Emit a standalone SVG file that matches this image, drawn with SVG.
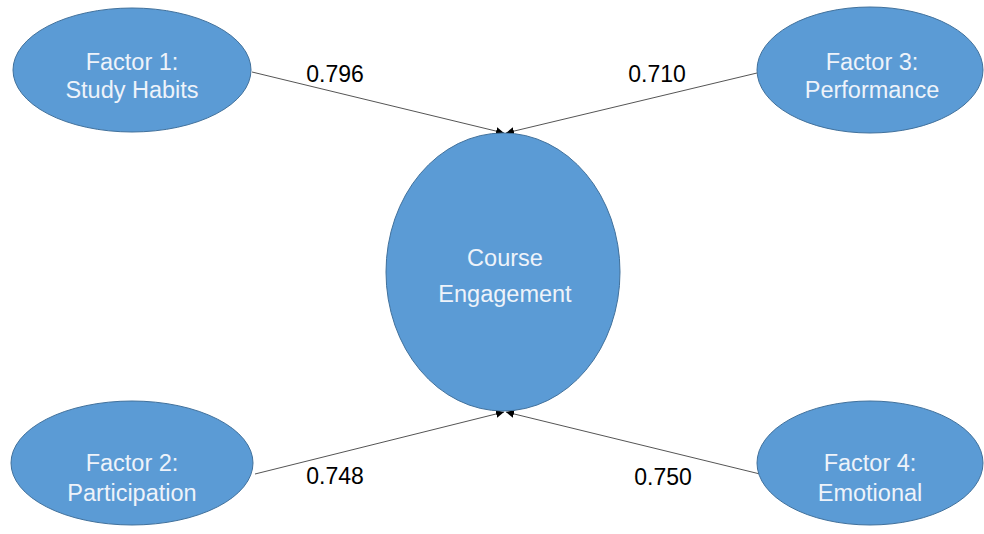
<svg xmlns="http://www.w3.org/2000/svg" width="984" height="534" viewBox="0 0 984 534">
<style>
.node{fill:#5b9bd5;stroke:#41719c;stroke-width:1}
.nt{font-family:"Liberation Sans","Open Sans",sans-serif;font-size:23.5px;fill:#eef3fa;text-anchor:middle}
.lbl{font-family:"Liberation Sans","Open Sans",sans-serif;font-size:23px;fill:#000;text-anchor:middle}
.edge{stroke:#555;stroke-width:1;fill:none;marker-end:url(#ah)}
</style>
<defs>
<marker id="ah" viewBox="0 0 10 10" refX="10" refY="5" markerWidth="8" markerHeight="8" markerUnits="userSpaceOnUse" orient="auto">
<path d="M0,0 L10,5 L0,10 z" fill="#000"/>
</marker>
</defs>
<rect width="984" height="534" fill="#fff"/>
<g id="connectors">
<line class="edge" x1="252" y1="72" x2="504" y2="133"/>
<line class="edge" x1="757" y1="73" x2="506" y2="133"/>
<line class="edge" x1="255" y1="474" x2="504" y2="412"/>
<line class="edge" x1="760" y1="474" x2="506" y2="412"/>
<text class="lbl" x="335" y="82">0.796</text>
<text class="lbl" x="657" y="82">0.710</text>
<text class="lbl" x="335" y="484">0.748</text>
<text class="lbl" x="663" y="485">0.750</text>
</g>
<g id="factor1">
<ellipse class="node" cx="132" cy="70" rx="119" ry="62"/>
<text class="nt" x="132" y="70">Factor 1:</text>
<text class="nt" x="132" y="98">Study Habits</text>
</g>
<g id="factor3">
<ellipse class="node" cx="870" cy="70" rx="113" ry="63"/>
<text class="nt" x="872" y="70">Factor 3:</text>
<text class="nt" x="872" y="98">Performance</text>
</g>
<g id="course">
<ellipse class="node" cx="503" cy="272" rx="117" ry="139"/>
<text class="nt" x="505" y="266">Course</text>
<text class="nt" x="505" y="302">Engagement</text>
</g>
<g id="factor2">
<ellipse class="node" cx="132" cy="463" rx="121" ry="62"/>
<text class="nt" x="132" y="471">Factor 2:</text>
<text class="nt" x="132" y="501">Participation</text>
</g>
<g id="factor4">
<ellipse class="node" cx="870" cy="463" rx="113" ry="62"/>
<text class="nt" x="870" y="471">Factor 4:</text>
<text class="nt" x="870" y="501">Emotional</text>
</g>
</svg>
